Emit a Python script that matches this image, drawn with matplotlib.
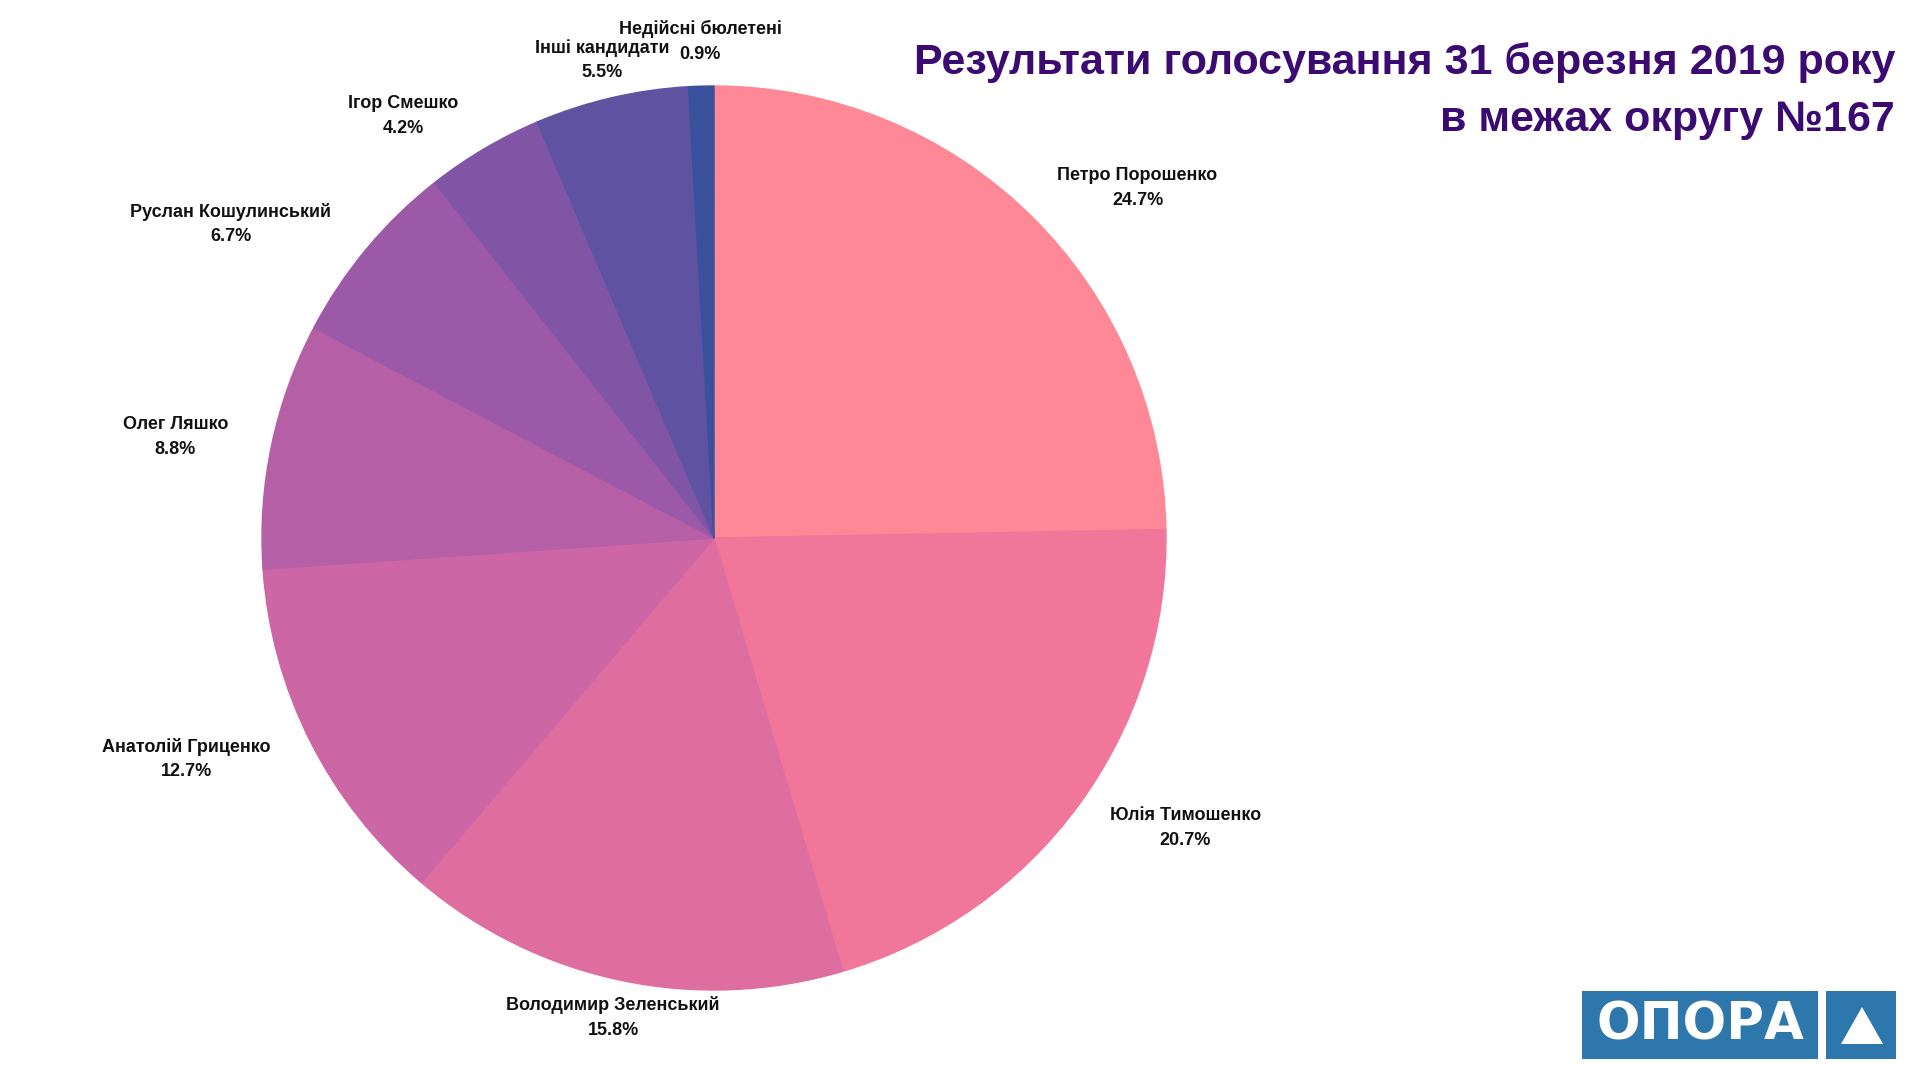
import numpy as np
import matplotlib.pyplot as plt
from matplotlib.patches import Rectangle, Polygon

plt.rcParams['font.family'] = ['Liberation Sans', 'DejaVu Sans']

# Data
names = ["Петро Порошенко", "Юлія Тимошенко", "Володимир Зеленський",
         "Анатолій Гриценко", "Олег Ляшко", "Руслан Кошулинський",
         "Ігор Смешко", "Інші кандидати", "Недійсні бюлетені"]
shares = [24.7, 20.7, 15.8, 12.7, 8.8, 6.7, 4.2, 5.5, 0.9]
colors = ["#ff8896", "#f0779a", "#df6ea0", "#cc66a4", "#b55fa7",
          "#9b59a7", "#8155a6", "#5f52a1", "#39509d"]
title_lines = ["Результати голосування 31 березня 2019 року", "в межах округу №167"]

# Figure in pixel units (axes fills the figure, 1 data unit = 1 px)
fig = plt.figure(figsize=(19.2, 10.8), dpi=100)
ax = fig.add_axes([0, 0, 1, 1])

cx, cy, R = 714, 542, 452
wedges, _ = ax.pie(shares, colors=colors, startangle=90, counterclock=False,
                   center=(cx, cy), radius=R, wedgeprops=dict(linewidth=1))
for w in wedges:
    w.set_edgecolor(w.get_facecolor())

ax.set_xlim(0, 1920)
ax.set_ylim(0, 1080)
ax.set_aspect('equal')
ax.axis('off')

# Labels around the pie (name + percent as two lines)
rl = R * 1.085
gap = 12.5
lab_style = dict(fontsize=13, fontweight='bold', color='#111111', va='center')
labels = []
for w, name, val in zip(wedges, names, shares):
    ang = np.deg2rad((w.theta1 + w.theta2) / 2)
    c, s = np.cos(ang), np.sin(ang)
    x, y = cx + rl * c, cy + rl * s
    t1 = ax.text(x, y + gap, name, ha='center', **lab_style)
    t2 = ax.text(x, y - gap, f"{val}%", ha='center', **lab_style)
    labels.append([t1, t2, x, y, c, s])

fig.canvas.draw()
renderer = fig.canvas.get_renderer()

# align the block to the side of the pie it sits on
for lab in labels:
    t1, t2, x, y, c, s = lab
    hw = max(t1.get_window_extent(renderer).width,
             t2.get_window_extent(renderer).width) / 2
    if c > 0.3:
        x = x + hw
    elif c < -0.3:
        x = x - hw - 6
    lab[2] = x
    t1.set_x(x)
    t2.set_x(x)

fig.canvas.draw()


def overlaps(a, b):
    for ta in a[:2]:
        ea = ta.get_window_extent(renderer)
        for tb in b[:2]:
            if ea.overlaps(tb.get_window_extent(renderer)):
                return True
    return False


# push a label outwards if it collides with the previous one
for i in range(1, len(labels)):
    lab, prev = labels[i], labels[i - 1]
    step = 1 if lab[5] >= 0 else -1
    n = 0
    while overlaps(lab, prev) and n < 80:
        lab[3] += step
        lab[0].set_y(lab[3] + gap)
        lab[1].set_y(lab[3] - gap)
        n += 1

# Title
ax.text(1895, 1080 - 74, title_lines[0], ha='right', va='baseline',
        fontsize=31, fontweight='bold', color='#3c0b72')
ax.text(1895, 1080 - 131, title_lines[1], ha='right', va='baseline',
        fontsize=31, fontweight='bold', color='#3c0b72')

# Logo
blue = '#2e77ad'
ax.add_patch(Rectangle((1582, 1080 - 1059), 236, 68, color=blue, lw=0))
ax.add_patch(Rectangle((1826, 1080 - 1059), 70, 68, color=blue, lw=0))
ax.add_patch(Polygon([(1841, 1080 - 1044), (1883, 1080 - 1044), (1862, 1080 - 1007)],
                     closed=True, color='white', lw=0))
ax.text(1700, 1080 - 1025.5, "ОПОРА", ha='center', va='center', fontsize=37,
        fontweight='bold', color='white', family='DejaVu Sans')

fig.savefig("out.png", dpi=100)
